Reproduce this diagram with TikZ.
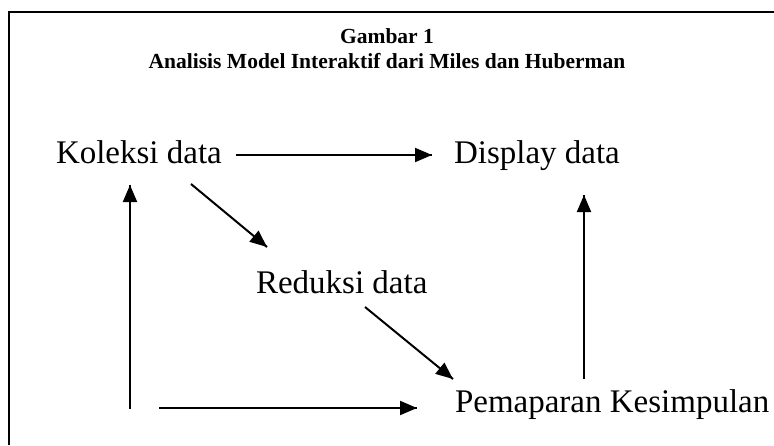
\documentclass[tikz,border=0pt]{standalone}
\usepackage{fontspec}
\setmainfont{Liberation Serif}
\tikzset{arr/.style = {decoration={markings, mark=at position 1 with {\arrow[scale=1]{Triangle[length=17pt,width=14pt]}}}, postaction={decorate}}}
\tikzset{tahap/.style = {font=\fontsize{33}{36}\selectfont, inner sep=0pt, anchor=base west}}
\tikzset{judul/.style = {font=\bfseries\fontsize{21.5}{24}\selectfont, inner sep=0pt, anchor=base}}
\usetikzlibrary{arrows.meta,
                 decorations.markings}

\begin{document}
\begin{tikzpicture}[x=1pt,y=-1pt,line width=2pt]
\useasboundingbox (0,0) rectangle (774,445);
\draw[line width=2.5pt] (9,445) -- (9,12) -- (774,12);
\node[judul] (gambar) at (387,43) {Gambar 1};
\node[judul] (analisis) at (387,68) {Analisis Model Interaktif dari Miles dan Huberman};
\node[tahap] (koleksi) at (55,163) {Koleksi data};
\node[tahap] (display) at (453,163) {Display data};
\node[tahap] (reduksi) at (255,293) {Reduksi data};
\node[tahap] (pemaparan) at (454,412) {Pemaparan Kesimpulan};
\coordinate (sudut) at (130,409);
\draw [arr] ([xshift=13pt,yshift=8pt]koleksi.base east) -- ([xshift=-21pt,yshift=8pt]display.base west);
\draw [arr] ([xshift=136pt,yshift=-21pt]koleksi.base west) -- ([xshift=12pt,yshift=46pt]reduksi.base west);
\draw [arr] ([xshift=110pt,yshift=-14pt]reduksi.base west) -- ([xshift=-1pt,yshift=33pt]pemaparan.base west);
\draw [arr] (sudut) -- ([xshift=75pt,yshift=-22pt]koleksi.base west);
\draw [arr] ([xshift=29pt,yshift=1pt]sudut) -- ([xshift=-37pt,yshift=4pt]pemaparan.base west);
\draw [arr] ([xshift=130pt,yshift=33pt]pemaparan.base west) -- ([xshift=131pt,yshift=-32pt]display.base west);
\end{tikzpicture}
\end{document}
